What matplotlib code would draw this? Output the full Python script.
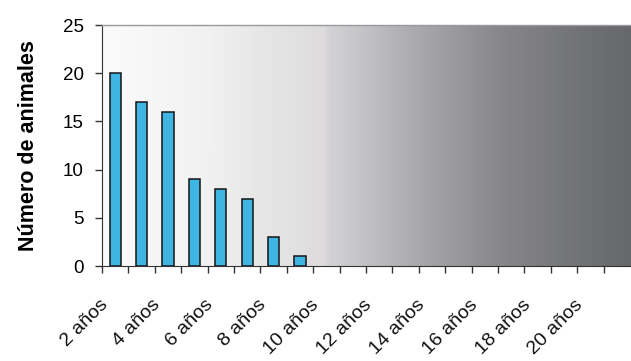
import numpy as np
import matplotlib
matplotlib.use("Agg")
import matplotlib.pyplot as plt
from matplotlib.colors import LinearSegmentedColormap
from matplotlib.transforms import ScaledTranslation, blended_transform_factory

# Age classes (years) and number of animals in each
ages = list(range(2, 22))
categories = [f"{a} años" for a in ages]
counts = [20, 17, 16, 9, 8, 7, 3, 1] + [0] * 12
y_ticks = [0, 5, 10, 15, 20, 25]

plt.rcParams['font.family'] = ['Liberation Sans', 'DejaVu Sans']

fig = plt.figure(figsize=(6.31, 3.61), dpi=100)
ax = fig.add_axes([0.1617, 0.263, 0.8368, 0.6676])

# Horizontal background gradient, light on the left to dark grey on the right
bg = LinearSegmentedColormap.from_list("bg", [
    (0.00, "#fbfbfb"),
    (0.20, "#f1f1f1"),
    (0.42, "#dddbdb"),
    (0.43, "#d3d2d5"),
    (0.60, "#a9a8ac"),
    (0.75, "#88888c"),
    (0.90, "#727377"),
    (1.00, "#66686b"),
])
grad = np.linspace(0, 1, 512).reshape(1, -1)
ax.imshow(grad, cmap=bg, aspect="auto", extent=(0, 1, 0, 1),
          transform=ax.transAxes, zorder=0)

x = np.arange(len(categories))
bars = [(xi, c) for xi, c in zip(x, counts) if c > 0]
ax.bar([b[0] for b in bars], [b[1] for b in bars], width=0.42,
       color="#3fb5e3", edgecolor="#151515", linewidth=1.1, zorder=3)

ax.set_xlim(-0.5, len(categories) - 0.5)
ax.set_ylim(0, 25)

# Tick marks between classes; rotated labels on every other class
ax.set_xticks(np.arange(-0.5, len(categories) - 1, 1))
ax.set_xticklabels([])
ax.tick_params(axis="x", length=5, width=1, color="#333333", direction="out")

label_tf = (blended_transform_factory(ax.transData, ax.transAxes)
            + ScaledTranslation(-0.10, -0.36, fig.dpi_scale_trans))
for xi, name in zip(x[::2], categories[::2]):
    ax.text(xi, 0, name, transform=label_tf, rotation=45, ha="right",
            va="center", rotation_mode="anchor", fontsize=14,
            color="#111111", clip_on=False)

ax.set_yticks(y_ticks)
ax.tick_params(axis="y", length=5, width=1, color="#333333", labelsize=13.5,
               pad=8)

ax.set_ylabel("Número de animales", fontsize=15.5, fontweight="bold",
              labelpad=17)

for side in ("top", "right"):
    ax.spines[side].set_visible(False)
ax.spines["left"].set_color("#333333")
ax.spines["bottom"].set_color("#333333")
ax.axhline(25, color="#9a9a9a", linewidth=1.0, zorder=4, clip_on=False)

fig.savefig("out.png", dpi=100, facecolor="white")
